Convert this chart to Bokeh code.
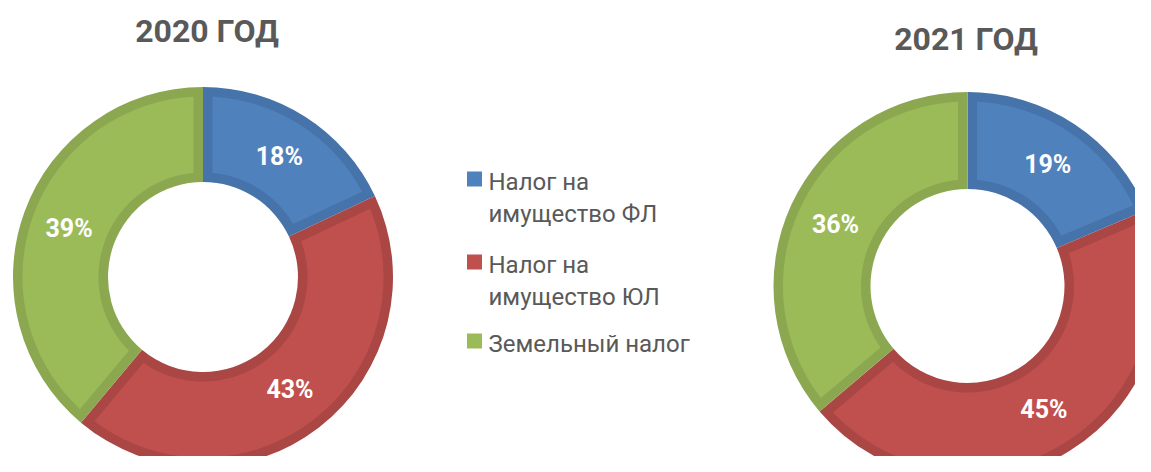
import numpy as np
from bokeh.plotting import figure
from bokeh.models import Range1d
from bokeh.core.properties import value
from bokeh.embed import file_html
from bokeh.resources import INLINE

# ---- data ----
years = ["2020 ГОД", "2021 ГОД"]
categories = ["Налог на\nимущество ФЛ", "Налог на\nимущество ЮЛ", "Земельный налог"]
shares_2020 = [18.0, 43.1, 38.9]
shares_2021 = [18.6, 45.2, 36.2]

fill_colors = ["#4F81BD", "#C0504D", "#9BBB59"]
edge_colors = ["#4673AA", "#AA4744", "#8BA850"]

FONT = "Roboto"
W, H = 1135, 456
REF_H = 472


def Y(yref):
    return REF_H - yref


p = figure(width=W, height=H, x_range=Range1d(0, W), y_range=Range1d(Y(H), Y(0)),
           x_axis_type=None, y_axis_type=None, toolbar_location=None,
           output_backend="svg", min_border=0, outline_line_color=None)
p.grid.visible = False
p.background_fill_color = "white"
p.border_fill_color = "white"

BORDER = 9.5


def donut(cx, cy, r_out, r_in, shares, title, title_x, title_y):
    total = sum(shares)
    frac = np.array(shares) / total
    cum = np.concatenate([[0], np.cumsum(frac)])
    start = np.pi / 2 - cum[:-1] * 2 * np.pi
    end = np.pi / 2 - cum[1:] * 2 * np.pi
    # base (border colour)
    p.annular_wedge(x=cx, y=cy, inner_radius=r_in, outer_radius=r_out,
                    start_angle=start, end_angle=end, direction="clock",
                    fill_color=edge_colors, line_color=None)
    # inner lighter fill, inset by BORDER
    xs, ys = [], []
    ro, ri = r_out - BORDER, r_in + BORDER
    for s, e in zip(start, end):
        ao = np.arcsin(BORDER / ro)
        ai = np.arcsin(BORDER / ri)
        t_out = np.linspace(s - ao, e + ao, 120)
        t_in = np.linspace(e + ai, s - ai, 80)
        xs.append(list(cx + ro * np.cos(t_out)) + list(cx + ri * np.cos(t_in)))
        ys.append(list(cy + ro * np.sin(t_out)) + list(cy + ri * np.sin(t_in)))
    p.patches(xs=xs, ys=ys, fill_color=fill_colors, line_color=None)
    # labels
    mid = (start + end) / 2
    rm = (r_out + r_in) / 2
    labels = [f"{v:.0f}%" for v in shares]
    p.text(x=list(cx + rm * np.cos(mid)), y=list(cy + rm * np.sin(mid)), text=labels,
           text_align="center", text_baseline="middle", text_color="white",
           text_font=value(FONT), text_font_style="bold", text_font_size="25px")
    p.text(x=[title_x], y=[title_y], text=[title], text_align="center",
           text_baseline="middle", text_color="#595959",
           text_font=value(FONT), text_font_style="bold", text_font_size="32px")


donut(202.5, Y(276.5), 190, 95, shares_2020, years[0], 206.5, Y(30))
donut(967, Y(285.5), 194, 97, shares_2021, years[1], 965.5, Y(38))

# ---- legend ----
sq_x = 474
sq_tops = [171, 254, 333]
line_h = 32
for cat, col, top in zip(categories, fill_colors, sq_tops):
    p.rect(x=[sq_x], y=[Y(top + 7.5)], width=15, height=15, fill_color=col, line_color=None)
    for i, line in enumerate(cat.split("\n")):
        p.text(x=[488], y=[Y(top + 10 + i * line_h)], text=[line], text_align="left",
               text_baseline="middle", text_color="#595959",
               text_font=value(FONT), text_font_size="24px")

open("out.html", "w").write(file_html(p, INLINE))
